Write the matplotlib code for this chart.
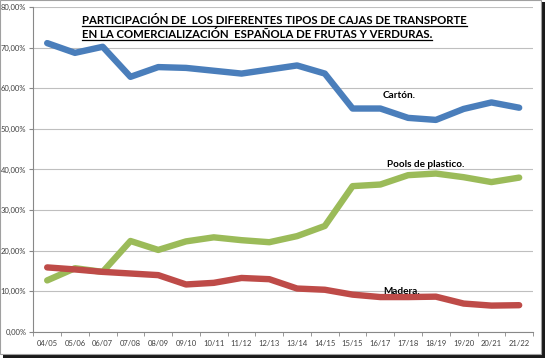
import matplotlib
matplotlib.use('Agg')
import matplotlib.pyplot as plt
from matplotlib.patches import Rectangle
from matplotlib.lines import Line2D
from matplotlib.ticker import FuncFormatter, MultipleLocator

# campañas
temporadas = ['04/05', '05/06', '06/07', '07/08', '08/09', '09/10', '10/11', '11/12', '12/13',
              '13/14', '14/15', '15/15', '16/17', '17/18', '18/19', '19/20', '20/21', '21/22']

# cuota de mercado (%)
carton = [71.1, 68.7, 70.2, 62.8, 65.2, 65.0, 64.3, 63.6, 64.6,
          65.6, 63.6, 55.0, 55.0, 52.7, 52.2, 54.9, 56.5, 55.2]
pools = [12.7, 15.7, 14.8, 22.4, 20.2, 22.3, 23.3, 22.6, 22.1,
         23.6, 26.1, 35.9, 36.3, 38.6, 39.0, 38.1, 36.9, 38.0]
madera = [15.9, 15.4, 14.8, 14.4, 14.0, 11.7, 12.1, 13.3, 13.0,
          10.7, 10.4, 9.2, 8.6, 8.6, 8.7, 7.0, 6.5, 6.6]

plt.rcParams['font.family'] = ['Lato', 'DejaVu Sans']

fig = plt.figure(figsize=(5.45, 3.58), dpi=100)

# marco con sombra
fig.patches.append(Rectangle((0.006, 0.0), 0.994, 0.994, transform=fig.transFigure,
                             facecolor='#1a1a1a', edgecolor='none', zorder=-2))
fig.patches.append(Rectangle((0.0, 0.01), 0.992, 0.99, transform=fig.transFigure,
                             facecolor='white', edgecolor='#a0a0a0', linewidth=0.8, zorder=-1))

ax = fig.add_axes([0.0611, 0.0726, 0.917, 0.908])
ax.set_zorder(2)
ax.set_facecolor('none')
x = range(len(temporadas))

lw = 4.6
ax.plot(x, carton, color='#4a7ebb', linewidth=lw, solid_capstyle='round', solid_joinstyle='round')
ax.plot(x, pools, color='#9bbb59', linewidth=lw, solid_capstyle='round', solid_joinstyle='round')
ax.plot(x, madera, color='#be4b48', linewidth=lw, solid_capstyle='round', solid_joinstyle='round')

ax.set_xlim(-0.5, len(temporadas) - 0.5)
ax.set_ylim(0, 80)
ax.yaxis.set_major_locator(MultipleLocator(10))
ax.yaxis.set_major_formatter(FuncFormatter(lambda v, p: f'{v:.2f}%'.replace('.', ',')))
ax.grid(axis='y', color='#bfbfbf', linewidth=0.8)
ax.set_axisbelow(True)

ax.set_xticks(list(x))
ax.set_xticklabels(temporadas)
ax.set_xticks([i + 0.5 for i in range(-1, len(temporadas))], minor=True)
ax.tick_params(axis='x', which='major', length=0, pad=5.5, labelsize=5.5, labelcolor='#404040')
ax.tick_params(axis='x', which='minor', length=3, color='#888888', direction='out')
ax.tick_params(axis='y', length=3, color='#888888', labelsize=5.5, labelcolor='#404040', pad=2)

for s in ['top', 'right']:
    ax.spines[s].set_visible(False)
ax.spines['left'].set_color('#888888')
ax.spines['bottom'].set_color('#888888')

tit = dict(fontsize=8.2, fontweight='bold', color='black', ha='left', va='baseline', zorder=5)
t1 = fig.text(0.15, 0.933, 'PARTICIPACIÓN DE  LOS DIFERENTES TIPOS DE CAJAS DE TRANSPORTE', **tit)
t2 = fig.text(0.15, 0.893, 'EN LA COMERCIALIZACIÓN  ESPAÑOLA DE FRUTAS Y VERDURAS.', **tit)

lab = dict(fontsize=7.2, fontweight='bold', color='black', ha='left', va='baseline')
ax.text(12.09, 57.5, 'Cartón.', **lab)
ax.text(12.23, 40.6, 'Pools de plastico.', **lab)
ax.text(12.09, 9.3, 'Madera.', **lab)

# subrayado del título
fig.canvas.draw()
r = fig.canvas.get_renderer()
W, H = fig.bbox.width, fig.bbox.height
for t in (t1, t2):
    bb = t.get_window_extent(r)
    x0, yb = t.get_position()
    yl = yb - 1.8 / H
    fig.add_artist(Line2D([bb.x0 / W, bb.x1 / W], [yl, yl], color='black', linewidth=0.9,
                          transform=fig.transFigure, zorder=5))

fig.savefig('out.png', dpi=100)
